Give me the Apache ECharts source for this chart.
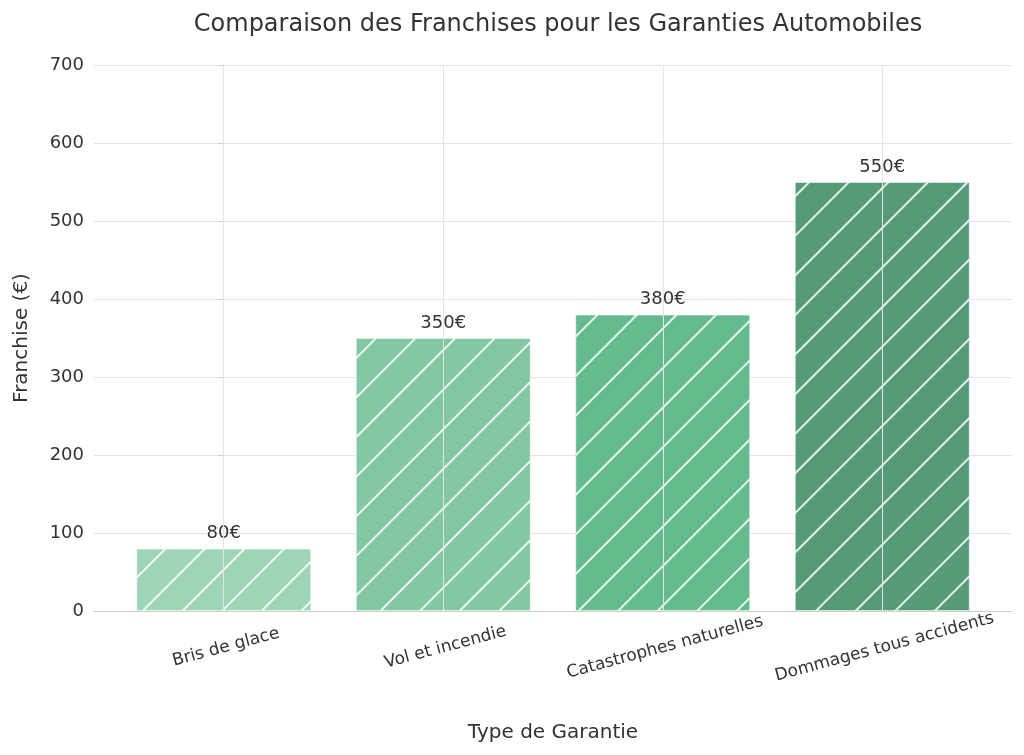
<!DOCTYPE html>
<html><head><meta charset="utf-8">
<script src="https://cdn.jsdelivr.net/npm/echarts@6/dist/echarts.min.js"></script>
<style>html,body{margin:0;padding:0;background:#fff}#c{width:1024px;height:755px}</style>
</head><body><div id="c"></div>
<script>
const categories = ["Bris de glace","Vol et incendie","Catastrophes naturelles","Dommages tous accidents"];
const values = [80,350,380,550];
const colors = ["#9dd5b6","#82c8a2","#63bb8e","#559b78"];
const yTicks = {min:0,max:700,interval:100};
const chart = echarts.init(document.getElementById('c'));
const font = "DejaVu Sans";
chart.setOption({
  textStyle:{fontFamily:font},
  title:{text:"Comparaison des Franchises pour les Garanties Automobiles",left:553,top:8,textAlign:'center',
    textStyle:{fontSize:24,fontWeight:'normal',color:'#333',fontFamily:font}},
  grid:[{left:94,right:12,top:65,bottom:144},{left:114,right:32,top:65,bottom:144}],
  xAxis:[
    {type:'value',gridIndex:0,min:-0.59,max:3.59,axisLabel:{show:false},axisTick:{show:false},
     splitLine:{show:false},axisLine:{lineStyle:{color:'#ccc'}},
     name:'Type de Garantie',nameLocation:'middle',nameGap:112,nameTextStyle:{fontSize:20,color:'#333'}},
    {type:'category',gridIndex:1,data:categories,axisLine:{show:false},axisTick:{show:false},
     axisLabel:{rotate:15,align:'center',verticalAlign:'top',fontSize:17,color:'#333',margin:28,interval:0}}],
  yAxis:[
    {type:'value',gridIndex:0,...yTicks,name:'Franchise (€)',nameLocation:'middle',nameGap:62,
     nameTextStyle:{fontSize:20,color:'#333'},
     axisLine:{show:true,lineStyle:{color:'#ccc'}},
     splitLine:{lineStyle:{color:'#e5e5e5'}},
     axisLabel:{fontSize:18,color:'#333',margin:10}},
    {type:'value',gridIndex:1,...yTicks,show:false,splitLine:{show:false}}],
  series:[
    {type:'line',xAxisIndex:0,yAxisIndex:0,data:[],silent:true,
     markLine:{silent:true,symbol:'none',label:{show:false},lineStyle:{color:'#e5e5e5',type:'solid',width:1},
       data:categories.map((c,i)=>({xAxis:i}))}},
    {type:'bar',xAxisIndex:1,yAxisIndex:1,barWidth:175,
    data:values.map((v,i)=>({value:v,itemStyle:{color:colors[i],
      decal:{color:'rgba(255,255,255,0.85)',dashArrayX:[1,0],dashArrayY:[2,26],rotation:-Math.PI/4,symbolSize:1}}})),
    itemStyle:{borderColor:'rgba(255,255,255,0.6)',borderWidth:1,borderType:'dotted'},
    label:{show:true,position:'top',formatter:p=>p.value+'€',fontSize:18,color:'#333',distance:6}}]
});
</script></body></html>
